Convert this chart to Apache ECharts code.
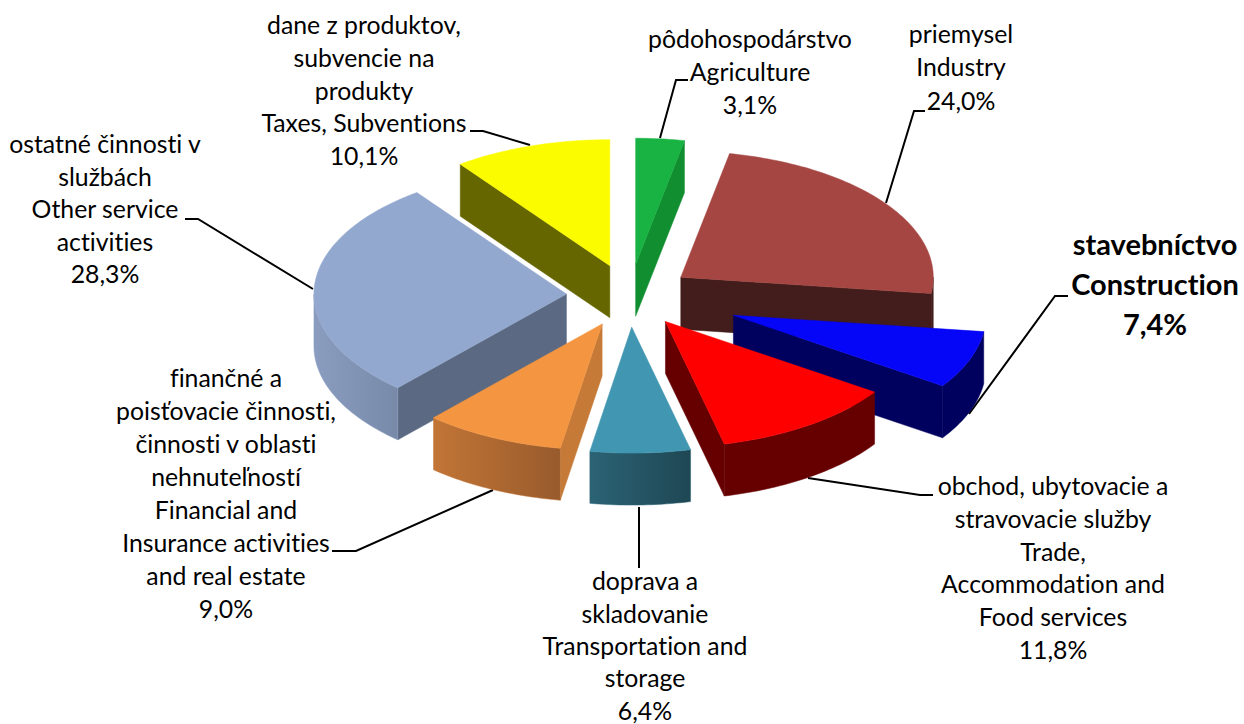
<!DOCTYPE html>
<html>
<head>
<meta charset="utf-8">
<style>
  html, body { margin: 0; background: #fff; }
  #chart { width: 1244px; height: 724px; }
  #chart text { font-variant-ligatures: none !important; font-feature-settings: "liga" 0, "clig" 0 !important; }
</style>
<script src="https://cdn.jsdelivr.net/npm/echarts@6/dist/echarts.min.js"></script>
</head>
<body>
<div id="chart"></div>
<script>
// data, clockwise from 12 o'clock
const categories = [
  'pôdohospodárstvo\nAgriculture',
  'priemysel\nIndustry',
  'stavebníctvo\nConstruction',
  'obchod, ubytovacie a\nstravovacie služby\nTrade,\nAccommodation and\nFood services',
  'doprava a\nskladovanie\nTransportation and\nstorage',
  'finančné a\npoisťovacie činnosti,\nčinnosti v oblasti\nnehnuteľností\nFinancial and\nInsurance activities\nand real estate',
  'ostatné činnosti v\nslužbách\nOther service\nactivities',
  'dane z produktov,\nsubvencie na\nprodukty\nTaxes, Subventions'
]
const shares = [3.1, 24.0, 7.4, 11.8, 6.4, 9.0, 28.3, 10.1]
const shareLabels = ['3,1%', '24,0%', '7,4%', '11,8%', '6,4%', '9,0%', '28,3%', '10,1%']
const explode = [0.25, 0.25, 0.44, 0.25, 0.25, 0.25, 0.25, 0.25]

// painter order, back slices first
const drawOrder = [7, 0, 6, 1, 2, 5, 3, 4]

const topColors = ['#19b343', '#a54643', '#0505f8', '#ff0000', '#4197b1', '#f49641', '#93a8ce', '#fcfc00']
const sideColors = ['#118f30', '#431d1b', '#00005f', '#660000', '#265a6b', '#c67a38', '#5b6a82', '#666600']
const rimColors = [
  ['#118f30', '#118f30'], ['#431d1b', '#431d1b'], ['#00005f', '#00005f'], ['#660000', '#660000'],
  ['#2b6375', '#1f4754'], ['#c27536', '#985b2c'], ['#8a9dc0', '#788aa8'], ['#666600', '#666600']
]

// pie geometry
const cx = 629.5, cy = 295.6, rx = 252.5, ry = 126, depth = 52

// label boxes: centre x, centre y of first line, line height, bold
const labelLayout = [
  [750, 38.5, 33.2, false],
  [961, 33.5, 33.4, false],
  [1155, 243.5, 40, true],
  [1053, 485.5, 32.8, false],
  [645, 581, 32.3, false],
  [226, 377.5, 33, false],
  [105, 143.5, 32.6, false],
  [364, 24.5, 32.8, false]
]
const leaderLines = [
  [[660, 138], [676, 80], [688, 80]],
  [[886, 203], [914, 111], [925, 111]],
  [[969, 414], [1055, 296], [1068, 296]],
  [[808, 478], [920, 495], [933, 495]],
  [[639, 507], [639, 568]],
  [[493, 490], [356, 551], [332, 551]],
  [[313, 289], [198, 219], [185, 219]],
  [[530, 145], [483, 131], [470, 131]]
]

const total = shares.reduce((a, b) => a + b, 0)
const startAngles = []
shares.reduce((acc, v, i) => {
  startAngles[i] = acc
  return acc + v / total * 2 * Math.PI
}, 0)

function renderSlice(params, api) {
  const i = api.value(1)
  const a0 = startAngles[i]
  const a1 = a0 + api.value(0) / total * 2 * Math.PI
  const mid = (a0 + a1) / 2
  const ax = cx + explode[i] * rx * Math.sin(mid)
  const ay = cy - explode[i] * ry * Math.cos(mid)
  const rim = (a) => [ax + rx * Math.sin(a), ay - ry * Math.cos(a)]
  const arc = (from, to) => {
    const n = Math.max(2, Math.ceil((to - from) / 0.02))
    const pts = []
    for (let k = 0; k <= n; k++) pts.push(rim(from + (to - from) * k / n))
    return pts
  }
  const down = (p) => [p[0], p[1] + depth]
  const poly = (points, fill) => ({
    type: 'polygon',
    shape: { points },
    style: { fill, stroke: fill, lineWidth: 0.5 }
  })
  const children = []
  // cut faces, only the ones turned to the viewer
  if (Math.sin(a1) > 0) {
    const p = rim(a1)
    children.push(poly([[ax, ay], p, down(p), [ax, ay + depth]], sideColors[i]))
  }
  if (Math.sin(a0) < 0) {
    const p = rim(a0)
    children.push(poly([[ax, ay], p, down(p), [ax, ay + depth]], sideColors[i]))
  }
  // outer wall is visible on the front half only
  const wall0 = Math.max(a0, Math.PI / 2)
  const wall1 = Math.min(a1, Math.PI * 1.5)
  if (wall1 > wall0) {
    const edge = arc(wall0, wall1)
    const c = rimColors[i]
    children.push(poly(edge.concat(edge.map(down).reverse()), {
      type: 'linear', x: 0, y: 0, x2: 1, y2: 0,
      colorStops: [{ offset: 0, color: c[0] }, { offset: 1, color: c[1] }]
    }))
    children[children.length - 1].style.stroke = c[0]
  }
  children.push(poly([[ax, ay]].concat(arc(a0, a1)), topColors[i]))
  return { type: 'group', children }
}

const graphics = []
categories.forEach((name, i) => {
  const l = labelLayout[i]
  graphics.push({
    type: 'text',
    x: l[0],
    y: l[1] - l[2] / 2,
    style: {
      text: name + '\n' + shareLabels[i],
      font: (l[3] ? 'bold 29px' : '24.8px') + ' Lato, "Noto Sans", sans-serif',
      fill: '#000',
      align: 'center',
      verticalAlign: 'top',
      lineHeight: l[2]
    }
  })
  graphics.push({
    type: 'polyline',
    shape: { points: leaderLines[i] },
    style: { stroke: '#000', lineWidth: 2, fill: null }
  })
})

const chart = echarts.init(document.getElementById('chart'), null, { renderer: 'svg' })
chart.setOption({
  animation: false,
  backgroundColor: '#fff',
  graphic: graphics,
  series: [{
    type: 'custom',
    coordinateSystem: 'none',
    renderItem: renderSlice,
    silent: true,
    z: 3,
    data: drawOrder.map((i) => [shares[i], i])
  }]
})
</script>
</body>
</html>
